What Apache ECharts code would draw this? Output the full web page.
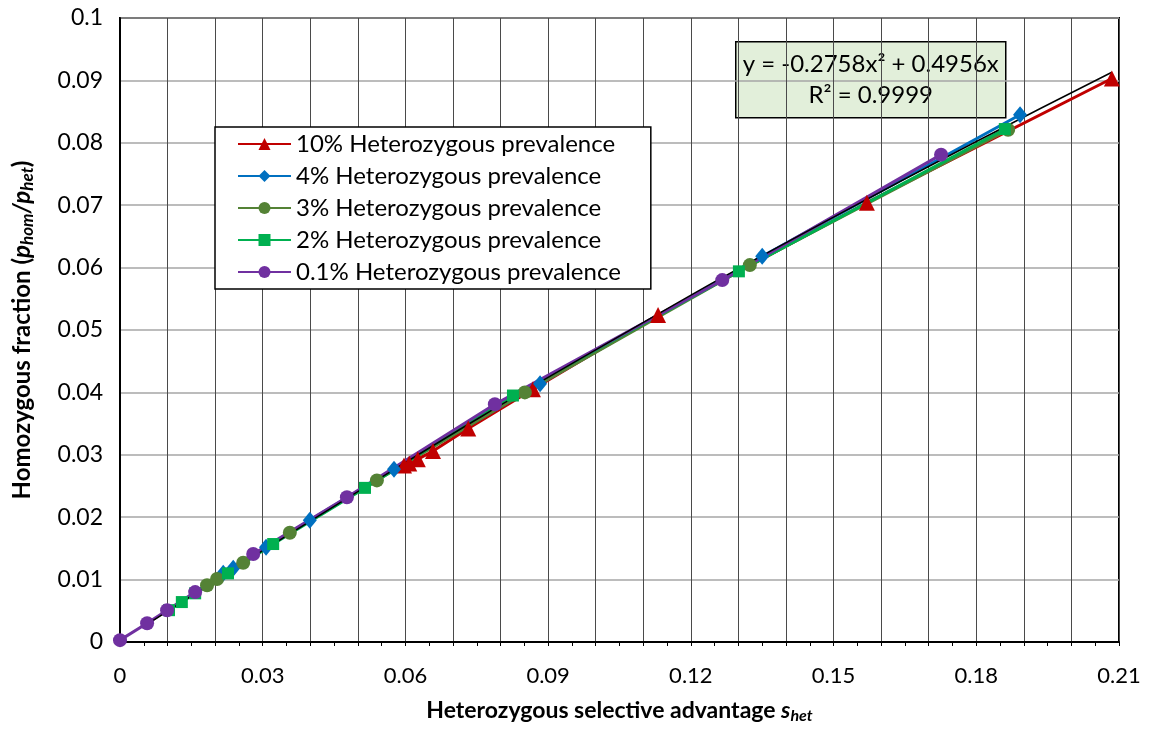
<!DOCTYPE html>
<html>
<head>
<meta charset="utf-8">
<script src="https://cdn.jsdelivr.net/npm/echarts@6/dist/echarts.min.js"></script>
<style>
  html, body { margin: 0; padding: 0; background: #fff; }
  #main { width: 1155px; height: 729px; }
</style>
</head>
<body>
<div id="main"></div>
<script>
const SERIES_NAMES = [
  '10% Heterozygous prevalence',
  '4% Heterozygous prevalence',
  '3% Heterozygous prevalence',
  '2% Heterozygous prevalence',
  '0.1% Heterozygous prevalence'
]

// values
const redX = [0.0597, 0.0608, 0.0626, 0.0658, 0.0732, 0.0868, 0.1131, 0.1570, 0.2085]
const redY = [0.0283, 0.0286, 0.0293, 0.0306, 0.0342, 0.0405, 0.0524, 0.0704, 0.0903]

const blueX = [0.0217, 0.0238, 0.0307, 0.0399, 0.0576, 0.0883, 0.1350, 0.1892]
const blueY = [0.0110, 0.0118, 0.0152, 0.0195, 0.0277, 0.0414, 0.0618, 0.0845]

const oliveX = [0.0183, 0.0204, 0.0259, 0.0357, 0.0540, 0.0851, 0.1324, 0.1867]
const oliveY = [0.0091, 0.0101, 0.0127, 0.0175, 0.0259, 0.0400, 0.0604, 0.0821]

const greenX = [0.0103, 0.0130, 0.0158, 0.0227, 0.0322, 0.0515, 0.0826, 0.1301, 0.1860]
const greenY = [0.0051, 0.0064, 0.0078, 0.0110, 0.0157, 0.0247, 0.0395, 0.0594, 0.0822]

const purpleX = [0, 0.0057, 0.0099, 0.0158, 0.0280, 0.0477, 0.0788, 0.1266, 0.1726]
const purpleY = [0.0003, 0.0030, 0.0051, 0.0080, 0.0141, 0.0232, 0.0381, 0.0580, 0.0781]

// black polynomial trendline, sampled along the drawn curve
const trendX = [0.0056, 0.05, 0.10, 0.15, 0.2085]
const trendY = [0.0028, 0.0241, 0.0468, 0.0681, 0.0913]

const X_TICKS = [0, 0.03, 0.06, 0.09, 0.12, 0.15, 0.18, 0.21]
const Y_TICKS = [0, 0.01, 0.02, 0.03, 0.04, 0.05, 0.06, 0.07, 0.08, 0.09, 0.1]

const COLORS = ['#C00000', '#0070C0', '#548235', '#00B050', '#7030A0']
const SYMBOLS = ['triangle', 'diamond', 'circle', 'rect', 'circle']
const SYMBOL_SIZES = [16, [14, 17], 14, 12, 14]

const FONT = 'Lato'

function pairs(xs, ys) {
  return xs.map((x, i) => [x, ys[i]])
}

function lineSeries(i, xs, ys) {
  return {
    name: SERIES_NAMES[i], type: 'line',
    data: pairs(xs, ys),
    symbol: SYMBOLS[i], symbolSize: SYMBOL_SIZES[i],
    showAllSymbol: true,
    lineStyle: { color: COLORS[i], width: 3 },
    itemStyle: { color: COLORS[i] },
  }
}

// rich styles for the axis titles (bold, italic variable, subscript)
function titleRich(size) {
  return {
    b: { fontSize: size, fontWeight: 'bold', color: '#000', fontFamily: FONT },
    bi: { fontSize: size, fontWeight: 'bold', fontStyle: 'italic', color: '#000', fontFamily: FONT },
    sub: { fontSize: Math.round(size * 0.7), fontWeight: 'bold', fontStyle: 'italic', color: '#000', fontFamily: FONT, padding: [11, 0, 0, 0] }
  }
}

const chart = echarts.init(document.getElementById('main'), null, { renderer: 'canvas' })

chart.setOption({
  backgroundColor: '#fff',
  animation: false,
  textStyle: { fontFamily: FONT },
  grid: {
    left: 120, right: 36, top: 18, bottom: 86,
    show: true, borderColor: '#000', borderWidth: 2, backgroundColor: '#fff'
  },
  xAxis: [
    {
      type: 'value', min: X_TICKS[0], max: X_TICKS[X_TICKS.length - 1], interval: 0.03,
      axisLine: { lineStyle: { color: '#000', width: 2 } },
      axisTick: { show: false },
      axisLabel: { color: '#000', fontSize: 22, margin: 23, fontFamily: FONT },
      splitLine: { show: true, lineStyle: { color: '#4a4a4a', width: 1 } },
      minorTick: { show: false, splitNumber: 3 },
      minorSplitLine: { show: true, lineStyle: { color: '#4a4a4a', width: 1 } },
      name: '{b|Heterozygous selective advantage }{bi|s}{sub|het}',
      nameLocation: 'middle', nameGap: 55,
      nameTextStyle: { rich: titleRich(23) },
    },
    {
      type: 'value', min: 0, max: 0.21, interval: 0.005,
      position: 'bottom',
      axisLine: { show: false },
      axisTick: { show: true, length: 4, lineStyle: { color: '#000', width: 1 } },
      axisLabel: { show: false },
      splitLine: { show: false }
    }
  ],
  yAxis: {
    type: 'value', min: Y_TICKS[0], max: Y_TICKS[Y_TICKS.length - 1], interval: 0.01,
    axisLine: { lineStyle: { color: '#000', width: 2 } },
    axisTick: { show: false },
    axisLabel: { color: '#000', fontSize: 23, margin: 17, fontFamily: FONT },
    splitLine: { show: true, lineStyle: { color: '#a6a6a6', width: 1.5 } },
    name: '{b|Homozygous fraction (}{bi|p}{sub|hom}{bi|/p}{sub|het}{b|)}',
    nameLocation: 'middle', nameGap: 84,
    nameTextStyle: { rich: titleRich(24) },
  },
  legend: {
    data: SERIES_NAMES,
    orient: 'vertical',
    left: 215, top: 127,
    padding: [4, 30, 4, 22],
    itemWidth: 53, itemHeight: 15, itemGap: 6,
    backgroundColor: '#fff',
    borderColor: '#000', borderWidth: 1.5,
    textStyle: { color: '#000', fontSize: 24, lineHeight: 26, fontFamily: FONT }
  },
  graphic: [
    {
      type: 'group', left: 735, top: 41, z: 100,
      children: [
        {
          type: 'rect', shape: { x: 0, y: 0, width: 270, height: 76 },
          style: { fill: '#E2EFDA', stroke: '#000', lineWidth: 1.5 }
        },
        {
          type: 'text', x: 135, y: 23,
          style: { text: 'y = -0.2758x² + 0.4956x', fill: '#000', font: '24px ' + FONT, textAlign: 'center', textVerticalAlign: 'middle' }
        },
        {
          type: 'text', x: 135, y: 54,
          style: { text: 'R² = 0.9999', fill: '#000', font: '24px ' + FONT, textAlign: 'center', textVerticalAlign: 'middle' }
        }
      ]
    }
  ],
  series: [
    lineSeries(0, redX, redY),
    lineSeries(1, blueX, blueY),
    lineSeries(2, oliveX, oliveY),
    lineSeries(3, greenX, greenY),
    lineSeries(4, purpleX, purpleY),
    {
      name: 'trend', type: 'line',
      data: pairs(trendX, trendY),
      smooth: true, symbol: 'none',
      lineStyle: { color: '#000', width: 1.5 },
      z: 3
    }
  ]
})
</script>
</body>
</html>
